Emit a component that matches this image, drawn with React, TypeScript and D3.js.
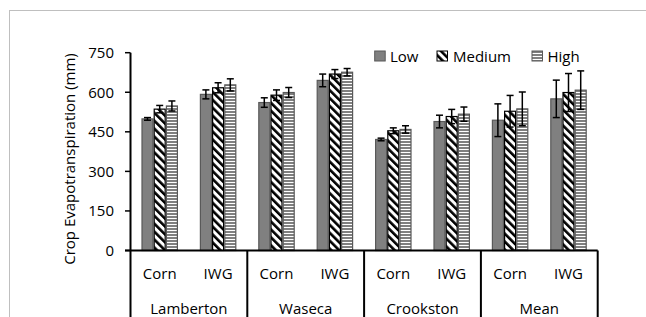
import React from "react";
import * as d3 from "d3";

const sites = ["Lamberton", "Waseca", "Crookston", "Mean"];
const crops = ["Corn", "IWG"];
const series = ["Low", "Medium", "High"];
// values per category (site x crop), order: Lamberton Corn, Lamberton IWG, Waseca Corn, ...
const lowValues = [499, 592, 561, 645, 421, 489, 494, 575];
const mediumValues = [536, 617, 589, 669, 454, 508, 528, 599];
const highValues = [548, 628, 599, 676, 459, 517, 537, 608];
const lowErrors = [5, 17, 18, 24, 5, 24, 62, 71];
const mediumErrors = [14, 19, 20, 17, 11, 27, 60, 72];
const highErrors = [19, 23, 19, 14, 14, 27, 64, 73];
const yTicks = [0, 150, 300, 450, 600, 750];

const W = 646;
const H = 317;
const FONT = "'Open Sans', sans-serif";

export default function App() {
  const x0 = 130.5;
  const x1 = 597.7;
  const yTop = 52.7;
  const yBase = 250.5;
  const y = d3.scaleLinear().domain([0, 750]).range([yBase, yTop]);

  const categories = sites.flatMap((s) => crops.map((c) => `${s}|${c}`));
  const xCat = d3.scaleBand().domain(categories).range([x0, x1]);
  const cw = xCat.bandwidth();
  const xSer = d3
    .scaleBand()
    .domain(series)
    .range([11.5, cw - 11.5])
    .paddingInner(0.1);
  const xSite = d3.scaleBand().domain(sites).range([x0, x1]);

  const vals = [lowValues, mediumValues, highValues];
  const errs = [lowErrors, mediumErrors, highErrors];
  const fills = ["#808080", "url(#diag)", "url(#hstripe)"];
  const strokes = ["#595959", "#000000", "#595959"];

  const bars: React.ReactNode[] = [];
  const errBars: React.ReactNode[] = [];
  categories.forEach((cat, ci) => {
    series.forEach((s, si) => {
      const v = vals[si][ci];
      const e = errs[si][ci];
      const bx = (xCat(cat) as number) + (xSer(s) as number);
      const bw = xSer.bandwidth();
      bars.push(
        <rect
          key={`b-${ci}-${si}`}
          x={bx}
          y={y(v)}
          width={bw}
          height={yBase - y(v)}
          fill={fills[si]}
          stroke={strokes[si]}
          strokeWidth={1.2}
        />
      );
      const cx = bx + bw / 2;
      errBars.push(
        <g key={`e-${ci}-${si}`} stroke="#000" strokeWidth={1.5}>
          <line x1={cx} x2={cx} y1={y(v - e)} y2={y(v + e)} />
          <line x1={cx - 3.5} x2={cx + 3.5} y1={y(v + e)} y2={y(v + e)} />
          <line x1={cx - 3.5} x2={cx + 3.5} y1={y(v - e)} y2={y(v - e)} />
        </g>
      );
    });
  });

  const legendItems = [
    { label: "Low", mx: 374.7, tx: 390 },
    { label: "Medium", mx: 437, tx: 453 },
    { label: "High", mx: 532, tx: 547.5 },
  ];

  return (
    <svg
      width={W}
      height={H}
      style={{ position: "absolute", left: 0, top: 0, background: "#fff" }}
      fontFamily={FONT}
    >
      <defs>
        <pattern
          id="diag"
          patternUnits="userSpaceOnUse"
          width={5.6}
          height={6}
          patternTransform="rotate(-45)"
        >
          <rect x={0} y={0} width={5.6} height={6} fill="#fff" />
          <rect x={0} y={0} width={2.6} height={6} fill="#000" />
        </pattern>
        <pattern id="hstripe" patternUnits="userSpaceOnUse" width={6} height={3}>
          <rect x={0} y={0} width={6} height={3} fill="#fff" />
          <rect x={0} y={0} width={6} height={2} fill="#808080" />
        </pattern>
      </defs>
      <rect x={0} y={0} width={W} height={H} fill="#fff" />
      {/* outer chart border */}
      <rect
        x={9.5}
        y={10.5}
        width={W + 20}
        height={H + 20}
        fill="none"
        stroke="#bfbfbf"
        strokeWidth={1}
      />

      {bars}
      {errBars}

      {/* y axis */}
      <line x1={x0} x2={x0} y1={yTop} y2={H} stroke="#000" strokeWidth={2} />
      {yTicks.map((t) => (
        <g key={`t-${t}`}>
          <line x1={125} x2={x0} y1={y(t)} y2={y(t)} stroke="#000" strokeWidth={1.5} />
          <text
            x={114}
            y={y(t)}
            dy="0.35em"
            textAnchor="end"
            fontSize={15}
            fill="#000"
          >
            {t}
          </text>
        </g>
      ))}
      <text
        transform={`translate(75,159) rotate(-90)`}
        textAnchor="middle"
        fontSize={15}
        fill="#000"
      >
        Crop Evapotranspiration (mm)
      </text>

      {/* x axis */}
      <line x1={125} x2={x1} y1={yBase} y2={yBase} stroke="#000" strokeWidth={2} />
      {sites.map((s) => {
        const sx = xSite(s) as number;
        return (
          <line
            key={`sep-${s}`}
            x1={sx + xSite.bandwidth()}
            x2={sx + xSite.bandwidth()}
            y1={yBase}
            y2={H}
            stroke="#000"
            strokeWidth={2}
          />
        );
      })}
      {categories.map((cat) => (
        <text
          key={`cl-${cat}`}
          x={(xCat(cat) as number) + cw / 2}
          y={279}
          textAnchor="middle"
          fontSize={15}
          fill="#000"
        >
          {cat.split("|")[1]}
        </text>
      ))}
      {sites.map((s) => (
        <text
          key={`sl-${s}`}
          x={(xSite(s) as number) + xSite.bandwidth() / 2}
          y={314}
          textAnchor="middle"
          fontSize={15}
          fill="#000"
        >
          {s}
        </text>
      ))}

      {/* legend */}
      {legendItems.map((it, i) => (
        <g key={`lg-${it.label}`}>
          <rect
            x={it.mx}
            y={51}
            width={10.5}
            height={10}
            fill={fills[i]}
            stroke={strokes[i]}
            strokeWidth={1}
          />
          <text x={it.tx} y={61.5} fontSize={15} fill="#000">
            {it.label}
          </text>
        </g>
      ))}
    </svg>
  );
}
